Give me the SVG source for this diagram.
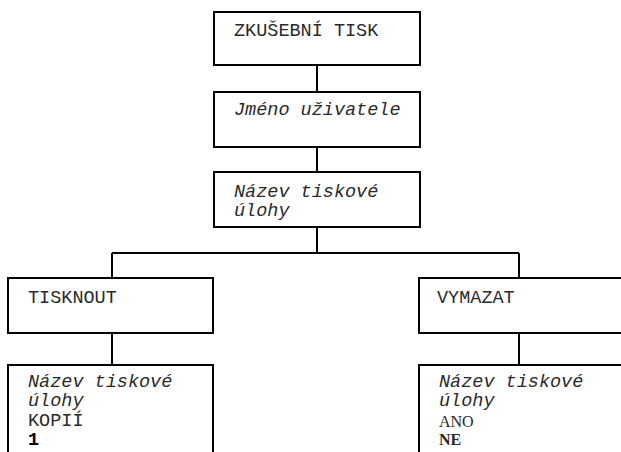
<svg xmlns="http://www.w3.org/2000/svg" width="621" height="452" viewBox="0 0 621 452">
<style>
.box{fill:#fff;stroke:#000;stroke-width:2}
.ln{fill:none;stroke:#000;stroke-width:2}
.t{font-family:"Liberation Mono","Courier New",monospace;font-size:18.5px;fill:#2a2a2a}
.i{font-style:italic}
.b{font-weight:bold;fill:#000}
.s{font-family:"Liberation Serif","Times New Roman",serif;font-size:16px;fill:#2a2a2a}
</style>
<rect width="621" height="452" fill="#fff"/>
<g id="connectors">
<path class="ln" d="M317 65V92M317 147V172M317 227V253M112 253H519M112 253V278M519 253V278M112 333V365M519 333V365"/>
</g>
<g id="n1"><rect class="box" x="214" y="12" width="206" height="53"/><text class="t" x="234" y="36">ZKUŠEBNÍ TISK</text></g>
<g id="n2"><rect class="box" x="214" y="92" width="206" height="55"/><text class="t i" x="234" y="115">Jméno uživatele</text></g>
<g id="n3"><rect class="box" x="214" y="172" width="206" height="55"/><text class="t i" x="234" y="197">Název tiskové</text><text class="t i" x="234" y="216">úlohy</text></g>
<g id="n4"><rect class="box" x="8" y="278" width="205" height="55"/><text class="t" x="28" y="303">TISKNOUT</text></g>
<g id="n5"><rect class="box" x="419" y="278" width="210" height="55"/><text class="t" x="437" y="303">VYMAZAT</text></g>
<g id="n6"><rect class="box" x="8" y="365" width="205" height="100"/><text class="t i" x="28" y="387">Název tiskové</text><text class="t i" x="28" y="406">úlohy</text><text class="t" x="28" y="426">KOPIÍ</text><text class="t b" x="28" y="445">1</text></g>
<g id="n7"><rect class="box" x="419" y="365" width="210" height="100"/><text class="t i" x="439" y="387">Název tiskové</text><text class="t i" x="439" y="406">úlohy</text><text class="s" x="439" y="427">ANO</text><text class="s b" x="439" y="445">NE</text></g>
</svg>
